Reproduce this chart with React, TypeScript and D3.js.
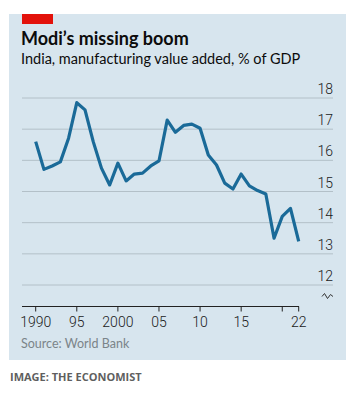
import React from "react";
import * as d3 from "d3";

const years: number[] = [1990,1991,1992,1993,1994,1995,1996,1997,1998,1999,2000,2001,2002,2003,2004,2005,2006,2007,2008,2009,2010,2011,2012,2013,2014,2015,2016,2017,2018,2019,2020,2021,2022];
const values: number[] = [16.6,15.71,15.82,15.95,16.71,17.85,17.62,16.6,15.75,15.21,15.91,15.34,15.56,15.59,15.82,15.98,17.29,16.9,17.12,17.16,17.03,16.17,15.85,15.27,15.08,15.56,15.18,15.03,14.92,13.5,14.2,14.46,13.4];
const yTicks: number[] = [12,13,14,15,16,17,18];
const xTicks: number[] = [1990,1995,2000,2005,2010,2015,2020,2022];
const xTickLabels: string[] = ["1990","95","2000","05","10","15","","22"];

const title = "Modi\u2019s missing boom";
const subtitle = "India, manufacturing value added, % of GDP";
const source = "Source: World Bank";
const credit = "IMAGE: THE ECONOMIST";

export default function App() {
  const W = 358, H = 393;
  const x = d3.scaleLinear().domain([1990, 2022]).range([35.7, 298.7]);
  const y = d3.scaleLinear().domain([12, 18]).range([285, 98]);
  const line = d3.line<number>().x((_, i) => x(years[i])).y((d) => y(d)).curve(d3.curveLinear);
  const font = "'Lato', 'Open Sans', sans-serif";
  const axisY = 306.5;
  return (
    <svg width={W} height={H} style={{ position: "absolute", left: 0, top: 0, background: "#fff" }} fontFamily={font}>
      <rect x={9} y={14} width={337} height={346} fill="#d7e5ee" />
      <rect x={22} y={14} width={31} height={10} fill="#e3120b" />
      <text x={21} y={45} fontSize={18} fontWeight={700} fill="#0c0c0c">{title}</text>
      <text x={21} y={64} fontSize={14.5} fill="#0c0c0c">{subtitle}</text>
      {yTicks.map((t) => (
        <g key={t}>
          <line x1={22} x2={333} y1={y(t)} y2={y(t)} stroke="#b3c0c8" strokeWidth={1} />
          <text x={333} y={y(t) - 4} textAnchor="end" fontSize={14} fill="#1a1a1a" fontFamily="'Roboto', sans-serif" fontWeight={300}>{t}</text>
        </g>
      ))}
      <path d="M322,296.5 L324.5,293.5 L327.5,298.5 L330.5,294.5 L333,296.5" fill="none" stroke="#333" strokeWidth={1} />
      <line x1={22} x2={299} y1={axisY} y2={axisY} stroke="#222" strokeWidth={1} />
      {xTicks.map((t, i) => (
        <g key={t}>
          <line x1={x(t)} x2={x(t)} y1={axisY} y2={axisY + 5} stroke="#222" strokeWidth={1} />
          <text x={x(t)} y={327} textAnchor="middle" fontSize={14} fill="#1a1a1a" fontFamily="'Roboto', sans-serif" fontWeight={300}>{xTickLabels[i]}</text>
        </g>
      ))}
      <path d={line(values) || ""} fill="none" stroke="#1a6a98" strokeWidth={3.2} strokeLinejoin="round" />
      <text x={21} y={348} fontSize={12.5} fill="#7b8489">{source}</text>
      <text x={10} y={381} fontSize={11} fontWeight={700} fill="#5f5f5f" fontFamily="'Open Sans', sans-serif">{credit}</text>
    </svg>
  );
}
